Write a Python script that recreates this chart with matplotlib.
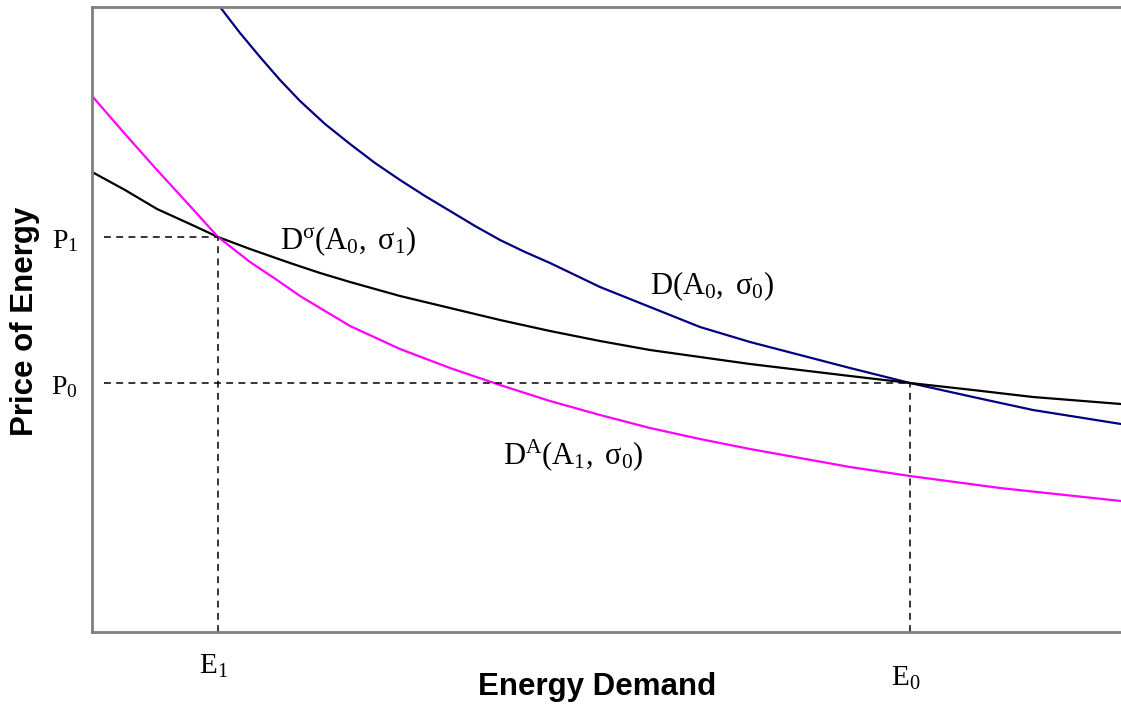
import matplotlib.pyplot as plt

plt.rcParams['mathtext.fontset'] = 'custom'
plt.rcParams['mathtext.rm'] = 'Liberation Serif'
plt.rcParams['mathtext.it'] = 'Liberation Serif:italic'

# demand curves (energy demand, price of energy)
d_x = [12.8, 14.8, 16.8, 18.8, 20.8, 23.3, 25.8, 28.3, 30.8, 33.3, 35.8,
       38.3, 40.8, 43.3, 45.8, 48.3, 50.8, 53.3, 55.8, 58.3, 60.8, 65.8,
       70.8, 75.8, 81.8, 88.1, 94.1, 102.9]
d_y = [62.5, 59.9, 57.5, 55.2, 53.1, 50.8, 48.8, 46.9, 45.2, 43.6, 42.1,
       40.6, 39.2, 38.0, 36.9, 35.7, 34.5, 33.5, 32.5, 31.5, 30.5, 29.0,
       27.7, 26.4, 24.9, 23.5, 22.2, 20.8]

ds_x = [0.0, 3.3, 6.5, 9.8, 12.6, 15.8, 19.8, 22.8, 25.8, 30.8, 35.8,
        40.8, 45.8, 50.8, 55.8, 60.8, 65.8, 70.8, 75.8, 81.8, 88.1, 94.1,
        102.9]
ds_y = [46.0, 44.2, 42.3, 40.8, 39.5, 38.3, 36.9, 35.9, 35.0, 33.6, 32.4,
        31.2, 30.1, 29.1, 28.2, 27.5, 26.8, 26.2, 25.6, 24.9, 24.2, 23.5,
        22.8]

da_x = [0.0, 3.3, 6.5, 9.8, 12.6, 15.8, 18.5, 20.8, 25.8, 30.8, 35.8,
        40.8, 45.8, 50.8, 55.8, 60.8, 65.8, 70.8, 75.8, 81.8, 90.8, 102.9]
da_y = [53.6, 49.8, 46.2, 42.6, 39.5, 37.0, 35.2, 33.6, 30.6, 28.3, 26.4,
        24.7, 23.1, 21.7, 20.4, 19.3, 18.3, 17.4, 16.5, 15.6, 14.4, 13.1]

E1, E0 = 12.6, 81.8
P1, P0 = 39.5, 24.9

fig = plt.figure(figsize=(11.21, 7.06), dpi=100)
ax = fig.add_axes([0.0821, 0.1048, 0.9179, 0.8853])

ax.plot(d_x, d_y, color='#000080', lw=1.6)
ax.plot(ds_x, ds_y, color='black', lw=1.6)
ax.plot(da_x, da_y, color='#ff00ff', lw=1.6)

dash = (0, (4.5, 3.5))
ax.plot([1.2, E1], [P1, P1], color='black', lw=1.1, ls=dash)
ax.plot([1.2, E0], [P0, P0], color='black', lw=1.1, ls=dash)
ax.plot([E1, E1], [0, P1], color='black', lw=1.1, ls=dash)
ax.plot([E0, E0], [0, P0], color='black', lw=1.1, ls=dash)

ax.set_xlim(0, 102.9)
ax.set_ylim(0, 62.5)

for s in ['left', 'bottom', 'top']:
    ax.spines[s].set_color('#808080')
    ax.spines[s].set_linewidth(2.0)
ax.spines['right'].set_visible(False)

ax.set_xticks([])
ax.set_yticks([P1, P0], [r'$\mathrm{P}_{1}$', r'$\mathrm{P}_{0}$'])
ax.tick_params(axis='y', length=0, labelsize=20, pad=10)

# E labels sit at slightly different heights in the original
tl = dict(fontsize=21, ha='center', va='center', clip_on=False,
          transform=ax.get_xaxis_transform())
ax.text(E1 - 0.5, -0.054, r'$\mathrm{E}_{1}$', **tl)
ax.text(E0 - 0.4, -0.074, r'$\mathrm{E}_{0}$', **tl)

ax.set_xlabel('Energy Demand', fontsize=22.5, fontweight='bold',
              family='Liberation Sans')
ax.xaxis.set_label_coords(0.491, -0.064)
ax.set_ylabel('Price of Energy', fontsize=22.5, fontweight='bold',
              family='Liberation Sans')
ax.yaxis.set_label_coords(-0.051, 0.497)

lbl = dict(fontsize=22, ha='left', va='center')
ax.text(18.8, 39.1, r'$\mathrm{D}^{\mathrm{σ}}(\mathrm{A}_{0},\ \mathrm{σ}_{1})$', **lbl)
ax.text(55.8, 34.6, r'$\mathrm{D}(\mathrm{A}_{0},\ \mathrm{σ}_{0})$', **lbl)
ax.text(41.1, 17.7, r'$\mathrm{D}^{\mathrm{A}}(\mathrm{A}_{1},\ \mathrm{σ}_{0})$', **lbl)

fig.savefig('out.png', dpi=100)
